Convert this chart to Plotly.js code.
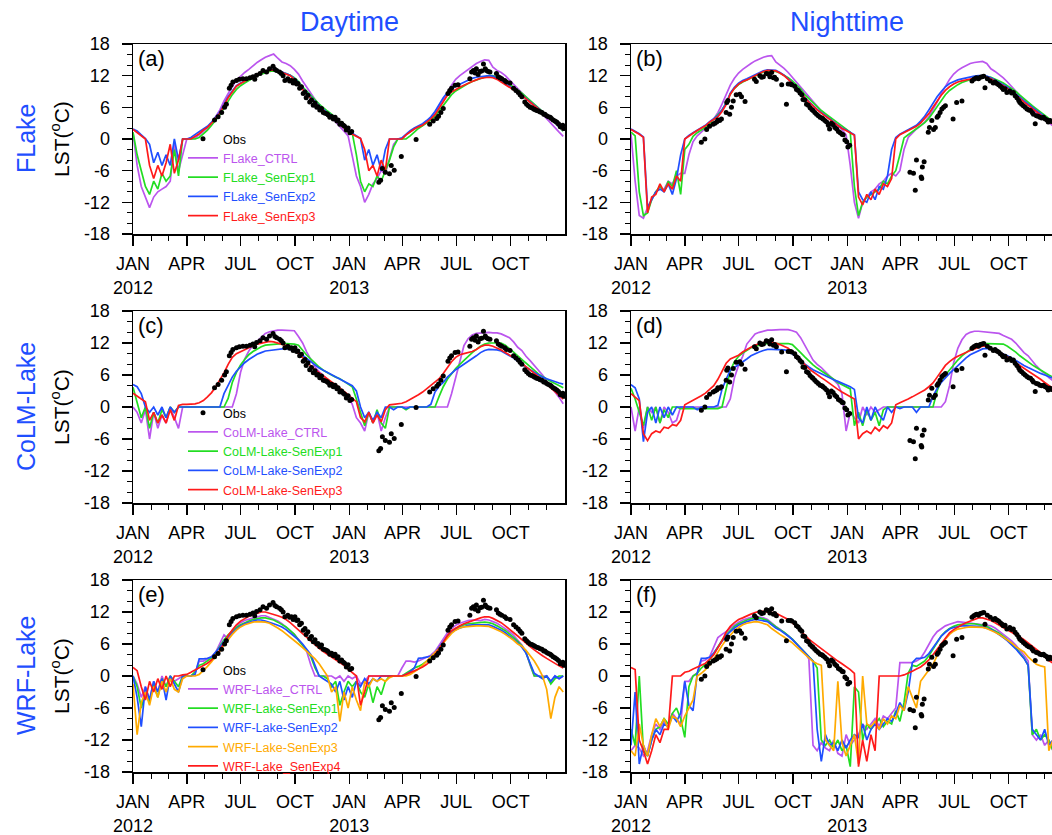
<!DOCTYPE html>
<html><head><meta charset="utf-8">
<script src="https://cdn.plot.ly/plotly-3.0.1.min.js"></script>
<style>html,body{margin:0;padding:0;overflow:hidden;background:#fff}#chart{width:1070px;height:835px}</style>
</head><body><div id="chart"></div>
<script>
// ---- x grid (days since 2012-01-01, weekly samples) ----
const dayGrid = [0,7,14,21,28,35,42,49,56,63,70,77,84,91,98,105,112,119,126,133,140,147,154,161,168,175,182,189,196,203,210,217,224,231,238,245,252,259,266,273,280,287,294,301,308,315,322,329,336,343,350,357,364,371,378,385,392,399,406,413,420,427,434,441,448,455,462,469,476,483,490,497,504,511,518,525,532,539,546,553,560,567,574,581,588,595,602,609,616,623,630,637,644,651,658,665,672,679,686,693,700,707,714,721,728];

const majorTickDays = [0,91,182,274,366,456,547,639];
const majorTickText = ['JAN<br>2012','APR','JUL','OCT','JAN<br>2013','APR','JUL','OCT'];
const minorTickDays = [31,60,121,152,213,244,305,335,397,425,486,517,578,609,670,700];
const yTickVals = [-18,-12,-6,0,6,12,18];
const yTickText = ['-18','-12','-6','0','6','12','18'];

const flakeNames = ['FLake_CTRL','FLake_SenExp1','FLake_SenExp2','FLake_SenExp3'];
const colmNames = ['CoLM-Lake_CTRL','CoLM-Lake-SenExp1','CoLM-Lake-SenExp2','CoLM-Lake-SenExp3'];
const wrfNames = ['WRF-Lake_CTRL','WRF-Lake-SenExp1','WRF-Lake-SenExp2','WRF-Lake-SenExp3','WRF-Lake_SenExp4'];

// ---- observations ----
const obsDayDays = [138,144,150,155,158,163,166,169,175,180,186,192,198,203,206,209,215,220,226,231,237,240,243,248,251,254,257,262,265,268,271,274,277,279,282,285,288,291,293,296,299,302,305,308,311,313,316,319,322,325,328,330,333,336,339,342,345,347,350,353,356,358,361,364,367,370,
416,419,422,427,434,437,442,454,479,
502,508,514,517,521,525,533,536,539,545,550,570,573,576,579,581,584,587,590,593,596,598,601,604,615,618,621,624,629,632,638,644,648,652,655,658,663,666,669,672,675,678,680,683,686,689,692,695,697,700,703,706,708,711,714,717,720,723,725,727,729];
const obsDayVals = [3.6,4.2,5.0,6.0,6.6,9.6,10.2,10.8,11.1,11.3,11.4,11.4,11.6,11.8,11.3,12.1,12.4,13.0,12.7,13.3,13.8,13.2,13.0,12.7,12.4,12.0,11.1,11.4,11.0,11.1,10.6,11.1,10.4,10.5,9.6,9.9,8.6,8.9,7.8,8.3,7.0,7.4,6.4,6.8,6.0,6.1,5.5,5.8,5.0,4.9,4.8,4.6,4.1,4.25,3.8,4.1,3.4,3.6,2.8,3.0,2.6,2.4,1.7,2.1,1.2,1.4,
-8.2,-7.8,-5.6,-6.3,-6.6,-5.0,-5.9,-3.3,-0.1,
2.8,3.4,3.9,4.3,5.0,5.8,8.6,9.2,9.6,10.2,10.3,11.4,12.7,13.0,12.5,13.3,12.2,12.8,12.9,14.2,13.3,13.0,12.8,12.7,12.4,11.8,11.6,11.4,11.1,10.8,10.6,9.6,9.2,8.8,8.4,8.0,7.0,6.6,6.3,6.0,5.9,5.7,5.6,5.4,5.3,5.1,5.0,4.7,4.7,4.4,4.2,4.1,3.9,3.6,3.4,3.2,2.9,2.3,2.3,2.6,2.0];
const obsNightDays = [119,125,128,133,139,142,145,147,150,153,161,162,164,167,170,173,178,184,187,193,209,212,218,221,224,229,232,235,238,241,243,246,255,263,266,270,272,277,280,283,286,289,291,294,297,300,303,306,308,311,314,317,320,323,325,328,331,334,336,339,342,345,348,351,354,357,359,362,365,367,370,
472,478,481,483,491,492,493,496,
503,505,509,512,515,518,520,523,526,529,532,545,551,560,577,580,583,585,588,591,594,597,599,603,608,613,616,619,622,625,628,630,633,636,641,644,647,650,653,656,658,661,664,667,670,673,676,679,681,684,686,689,692,695,698,701,704,706,709,712,718,724,729];
const obsNightVals = [-0.6,0.0,1.8,2.4,2.8,3.0,3.2,3.6,3.5,3.8,5.0,6.9,7.3,4.7,6.0,7.2,8.4,8.5,8.0,7.1,11.3,10.9,12.0,11.7,11.8,12.4,12.3,11.8,12.6,11.6,11.7,11.3,10.3,6.6,10.4,10.4,10.3,10.0,9.4,9.2,8.7,8.4,7.5,7.4,6.6,6.4,5.9,5.6,5.4,5.0,4.7,4.4,4.1,4.0,3.8,3.5,3.2,2.6,1.9,3.0,2.7,2.2,1.9,1.4,1.2,0.9,0.8,-0.2,-0.5,-1.5,-1.2,
-6.3,-6.5,-9.7,-4.0,-7.2,-7.5,-5.3,-4.3,
1.3,2.2,3.5,1.8,2.2,4.1,4.4,5.0,5.7,6.0,6.3,3.8,6.9,7.2,11.0,11.3,11.5,11.6,11.4,11.7,11.8,11.9,9.7,11.4,11.0,10.6,10.8,10.5,10.3,10.0,9.7,9.4,9.5,8.8,9.1,8.7,8.8,8.2,7.8,7.3,6.9,6.6,6.3,6.0,5.7,5.5,5.4,5.0,4.7,2.9,4.4,4.3,4.1,4.0,4.1,3.8,3.6,3.2,3.5,3.3,3.0,2.6,2.3];

// ---- (a) FLake daytime ----
const aCTRL = [1.2,-5,-9,-11,-13,-11,-10,-9.5,-9,-8,-1,-6,-3,
 0,0,0.2,0.8,1.5,2.1,3.0,4.2,5.5,7.2,8.7,10.0,11.1,
 11.9,12.6,13.2,13.9,14.5,15.0,15.5,15.8,16.1,15.3,14.6,14.3,13.9,
 13.2,12.3,11.0,9.8,8.6,7.5,6.5,5.6,4.8,4.1,3.3,2.4,1.5,
 0.6,-3,-7,-9,-12,-10.5,-8.5,-7.5,-6,-6.5,-3.5,-1,0,
 0,0.8,1.4,1.9,2.3,2.7,3.3,4.0,5.0,6.2,7.6,8.8,10.2,
 11.3,12.0,12.6,13.2,13.8,14.3,14.7,15.0,14.9,13.6,13.0,12.6,12.0,
 11.2,10.3,9.6,8.8,8.1,7.2,6.4,5.5,4.7,3.8,3.0,2.2,1.3,0.5];
const aSen1 = [1.3,-3,-6,-9,-10.5,-8,-9.5,-6.5,-8,-7,-2,-7,0,
 0,0,0,0.3,1.0,1.7,2.6,3.6,4.6,5.9,7.2,8.4,9.4,
 10.1,10.6,11.1,11.6,12.0,12.3,12.6,12.8,12.9,12.8,12.6,12.4,12.1,
 11.6,10.9,9.9,9.0,8.2,7.4,6.6,5.9,5.3,4.7,4.0,3.2,2.5,
 1.8,1.1,-3,-8,-10,-8.5,-9,-7,-8,-6,-4,-1.5,0,
 0,0,0.6,1.3,2.0,2.5,3.0,3.6,4.3,5.3,6.4,7.5,8.4,
 9.1,9.6,10.1,10.5,10.9,11.2,11.5,11.8,12.0,12.0,11.7,11.3,10.9,
 10.4,9.9,9.3,8.7,8.0,7.3,6.6,5.9,5.3,4.6,3.8,3.0,2.3,1.5];
const aSen2 = [1.9,1.5,0.8,0.1,-1,-4.5,-2.5,-5,-3,-5,0,-4,0,
 0,0.3,0.9,1.4,1.9,2.4,3.2,4.1,5.1,6.6,8.0,9.1,10.1,
 10.6,11.0,11.4,11.9,12.3,12.6,12.9,13.1,13.2,13.0,12.7,12.4,12.1,
 11.5,10.7,9.6,8.7,7.9,7.1,6.3,5.6,5.0,4.5,3.8,3.0,2.3,
 1.6,1.1,0.6,0.1,-4,-2,-5,-3,-6,-2,0,0,0,
 0.2,1.0,1.6,2.1,2.5,2.9,3.5,4.2,5.2,6.5,7.8,8.8,9.5,
 10.0,10.4,10.8,11.2,11.5,11.7,11.8,12.0,12.0,11.9,11.5,11.0,10.5,
 10.0,9.4,8.9,8.4,7.7,7.0,6.4,5.8,5.2,4.5,3.8,3.0,2.3,1.6];
const aSen3 = [1.8,1.2,0.5,0,-5,-7.5,-5,-7,-4.5,-1,-6.5,-4,0,
 0,0,0.5,1.0,1.7,2.2,3.0,3.9,4.9,6.4,7.8,8.9,10.0,
 10.5,10.9,11.3,11.8,12.3,12.6,12.9,13.0,13.1,12.9,12.6,12.3,12.0,
 11.3,10.5,9.4,8.5,7.7,6.9,6.1,5.4,4.8,4.3,3.6,2.8,2.1,
 1.4,0.9,0.5,0.1,-2,-6,-5,-7,-4,-6,0,0,0,
 0,0.8,1.4,1.9,2.3,2.6,3.2,3.8,4.6,5.8,7.0,8.3,8.9,
 9.4,9.8,10.2,10.6,10.9,11.2,11.5,11.6,11.7,11.6,11.3,10.8,10.3,
 9.8,9.2,8.7,8.3,7.6,6.9,6.3,5.7,5.1,4.5,3.9,3.1,2.4,1.7];

// ---- (b) FLake nighttime ----
const bCTRL = [1.0,-8,-14.5,-15,-13,-11.5,-10,-9.5,-9.5,-8,-8.5,-7,-6.5,
 -6.5,-3,-0.5,0.6,1.3,2.0,2.8,3.8,5.0,6.6,8.4,10.2,11.5,
 12.5,13.2,13.8,14.3,14.8,15.2,15.5,15.7,15.8,14.6,14.0,13.4,12.6,
 11.7,10.8,9.9,8.9,7.9,7.0,6.1,5.3,4.6,3.9,3.2,2.5,1.8,
 0.8,-5,-12,-15,-12,-11,-10,-9.5,-8.5,-8,-7,-6.5,-7,
 -6,-2,0.3,1.2,1.9,2.5,3.2,4.2,5.5,7.0,8.6,10.0,11.3,
 12.3,13.0,13.5,13.9,14.3,14.5,14.6,14.7,14.3,13.3,12.8,12.2,11.6,
 10.8,9.9,9.0,8.1,7.3,6.5,5.7,5.0,4.3,3.7,3.1,2.5,1.9,1.3];
const bSen1 = [1.3,0.6,-10,-14.5,-14,-11.5,-10,-9,-10,-8,-9,-6,-10.5,
 -2,-1,0.5,1.2,1.7,2.2,2.9,3.7,4.5,5.5,6.8,8.5,9.6,
 10.3,10.8,11.2,11.6,12.0,12.4,12.7,12.8,12.8,12.8,12.5,12.1,11.6,
 11.0,10.3,9.5,8.4,7.6,6.8,6.1,5.4,4.8,4.2,3.6,3.0,2.4,
 1.9,1.3,-9,-14.5,-12,-11,-10.5,-10,-9.5,-8,-8.5,-7,-6,
 -3,0.2,0.8,1.4,1.9,2.5,3.1,3.9,5.0,6.2,7.4,8.4,9.2,
 9.8,10.3,10.7,11.0,11.3,11.5,11.6,11.7,11.8,11.7,11.4,11.0,10.6,
 10.1,9.6,9.0,8.3,7.6,6.9,6.3,5.7,5.1,4.5,3.9,3.3,2.7,2.1];
const bSen2 = [1.9,1.5,1.0,0.4,-13,-11.5,-10,-9.5,-10,-8.5,-10.5,-7.5,-3,
 0,0.7,1.2,1.7,2.1,2.6,3.3,3.9,4.4,5.5,6.8,8.7,9.8,
 10.6,11.1,11.4,11.8,12.2,12.6,12.9,13.1,13.1,13.0,12.6,12.1,11.4,
 10.7,9.9,9.1,7.9,7.1,6.3,5.6,5.0,4.4,3.8,3.2,2.6,2.1,
 1.7,1.3,0.8,-10,-11.5,-12,-10,-11.5,-9,-9.5,-7,-2,0.3,
 0.9,1.3,1.7,2.1,2.6,3.4,4.3,5.5,6.8,8.0,9.0,9.9,10.5,
 10.9,11.2,11.4,11.6,11.8,11.9,12.0,12.0,11.9,11.6,11.2,10.8,10.3,
 9.8,9.2,8.6,7.9,7.2,6.6,6.0,5.4,4.8,4.2,3.6,3.0,2.4,1.8];
const bSen3 = [1.8,1.4,0.9,0.3,-14,-11,-10.5,-8.5,-10,-8.5,-9.5,-7,-8,
 0,0.6,1.1,1.6,2.0,2.5,3.2,3.7,4.2,5.2,6.5,8.5,9.6,
 10.4,10.9,11.2,11.6,12.0,12.4,12.8,13.0,13.0,12.9,12.5,12.0,11.3,
 10.6,9.8,9.0,7.8,7.0,6.2,5.5,4.9,4.3,3.7,3.1,2.5,2.0,
 1.6,1.2,0.7,-11,-12.5,-10.5,-11.5,-9.5,-10.5,-8.5,-9,-7.5,0,
 0.8,1.2,1.6,2.0,2.4,3.0,3.8,4.8,6.0,7.2,8.3,9.2,9.9,
 10.4,10.8,11.0,11.2,11.4,11.5,11.7,11.8,11.7,11.4,11.0,10.6,10.1,
 9.6,9.0,8.4,7.7,7.0,6.4,5.8,5.2,4.6,4.0,3.4,2.8,2.2,1.6];

// ---- (c) CoLM-Lake daytime ----
const cCTRL = [0,-1,-3,-0.5,-6,-1,-4,-1.5,-3,0,-2,-4,0,
 0,0,0,0,0,0,0,0,0,0,0,0,2.5,
 6.5,9.0,10.5,11.6,12.4,13.2,13.8,14.1,14.3,14.4,14.4,14.4,14.4,
 14.3,13.2,12.0,10.3,8.8,7.5,6.6,5.9,5.1,4.5,3.9,3.3,2.6,
 2.0,0.5,-2,-3,-4.5,-1,-3,-1,-4.5,-2,0,0,0,
 0,0,0,0,0,0,0,0,0,0,0,0,2.5,
 5.5,9.0,11.5,12.8,13.5,13.8,13.9,14.0,14.0,13.9,13.9,13.7,13.4,
 13.0,12.2,11.2,10.6,9.5,8.7,7.7,6.9,6.0,5.0,4.0,3.0,1.8,0.6];
const cSen1 = [3.7,1.0,-2,0,-4,-1,-3,-0.5,-2,0,-1,0,0,
 0,0,0,0,0,0,0,0,0,0,1.6,4.6,6.5,
 7.9,8.9,9.8,10.4,10.9,11.3,11.6,11.7,11.8,11.9,11.9,11.9,11.9,
 11.8,11.6,10.6,9.7,9.0,8.2,7.5,6.9,6.4,6.0,5.6,5.3,4.8,
 4.3,3.8,1.5,-1,-3.5,-1,-3,-0.5,-3,-4,0,0,0,
 0,-0.5,0,0,0,0,0,0,0,2.0,3.8,5.2,6.3,
 7.2,8.0,8.8,9.5,10.2,10.8,11.4,11.8,12.0,12.0,12.0,12.0,11.6,
 11.0,10.3,9.6,8.9,8.2,7.5,6.8,6.2,5.7,5.2,4.8,4.4,4.0,3.6];
const cSen2 = [4.2,3.8,2.5,0,-1,0,-1.5,0,-2,0,-1,0,0,
 0,0,0,0,0,0,0,0,0,2.5,4.0,5.6,6.7,
 7.6,8.3,8.9,9.4,9.9,10.2,10.5,10.6,10.7,10.8,10.9,11.0,10.8,
 10.6,10.3,9.7,9.1,8.5,7.8,7.3,6.9,6.5,6.1,5.7,5.2,4.8,
 4.4,4.0,3.0,0,-2,-1,-2.5,-1,-2,0,0,-0.5,0,
 0,-0.3,0,0,0,0,0,0.5,2.8,3.9,4.6,5.6,6.4,
 7.0,7.5,8.0,8.5,9.1,9.6,10.2,10.6,10.8,10.8,10.7,10.5,10.1,
 9.7,9.2,8.6,8.0,7.5,7.0,6.5,6.0,5.6,5.3,5.0,4.8,4.5,4.3];
const cSen3 = [2.6,2.0,1.5,1.0,-2.5,-1,-3,-1.5,-3,-0.5,-2.5,0.3,0.5,
 0.5,0.5,0.6,0.8,1.2,1.9,2.7,3.8,5.0,6.4,8.0,9.3,10.0,
 10.4,10.7,11.1,11.5,11.8,12.0,12.2,12.3,12.2,12.0,11.8,11.5,11.3,
 10.8,10.0,9.2,8.4,7.7,7.0,6.4,5.8,5.2,4.7,4.2,3.6,3.0,
 2.3,1.6,1.0,-2,-2.8,-1,-3,-1.5,-2.8,-0.5,0.4,0.5,0.6,
 0.7,1.0,1.4,1.8,2.3,2.8,3.4,4.0,4.7,5.3,6.3,7.4,8.5,
 9.3,9.8,10.0,10.2,10.4,10.8,11.3,11.6,11.6,11.4,11.1,10.7,10.2,
 9.8,9.3,8.8,8.2,7.6,6.9,6.3,5.7,5.0,4.3,3.6,2.9,2.2,1.5];

// ---- (d) CoLM-Lake nighttime ----
const dCTRL = [0,-4.5,0,-4,0,-1,0,-3,0,-1,-3,-2.5,0,
 0,0,0,0,0,0,0,0,0,0,0,1.5,5.5,
 7.8,9.5,11.8,12.8,13.7,14.0,14.2,14.4,14.4,14.5,14.5,14.5,14.5,
 14.3,14.0,13.0,11.5,10.0,8.8,8.0,7.4,6.6,5.8,5.0,4.3,2.5,
 -4.5,-1,-2,-3,0,-1.5,0,-1,-0.5,0,0,0,0,
 0,0,0,0,0,0,0,0,0,0,0,1.0,4.0,
 8.3,11.0,12.6,13.6,14.0,14.2,14.2,14.1,14.0,13.9,13.9,13.8,13.4,
 13.0,12.7,12.0,11.0,10.2,9.6,8.6,7.7,6.9,6.3,5.5,5.0,4.4,3.8];
const dSen1 = [3.5,1.5,-1,-3.5,0,-2.5,0,-3,-0.5,-2,0,0,-0.3,
 -0.3,-0.3,-0.3,-0.3,-0.3,-0.3,-0.3,-0.3,-0.3,0,3.5,6.8,8.5,
 9.5,10.1,10.6,11.1,11.4,11.6,11.8,11.9,11.9,11.9,11.9,11.9,11.9,
 11.7,11.0,10.2,9.4,8.6,7.9,7.3,6.8,6.2,5.7,5.2,4.6,4.2,
 3.8,3.4,-3.5,-1,-3.5,-0.5,-2.5,-1,-3.5,-0.5,0,0,0,
 0,0,0,0,0,0,0,0,0,3.0,5.0,6.0,7.0,
 8.0,8.8,9.6,10.2,10.8,11.2,11.5,11.8,11.9,11.9,11.9,11.9,11.8,
 11.4,10.9,10.3,9.6,9.0,8.4,7.9,7.4,6.9,6.5,6.0,5.6,5.2,4.8];
const dSen2 = [4.2,3.6,1.5,-6.5,-1,0,-3,0,-2,0,-1.5,0,0,
 0,0,0,-0.5,0,0,0,0,0.3,3.3,5.2,6.9,7.4,
 7.9,8.4,9.0,9.6,10.0,10.3,10.6,10.8,10.8,10.8,10.7,10.7,10.6,
 10.0,9.3,8.6,8.0,7.5,7.0,6.6,6.2,5.8,5.4,5.1,4.8,4.5,
 4.2,3.8,3.3,-2,-3,0,-2.5,0,-1.5,-2.5,0,-1,0,
 -0.3,0,0,0,-1,0,0,0,2.0,3.5,4.6,5.5,6.3,
 7.0,7.8,8.5,9.2,9.8,10.2,10.6,10.9,11.0,10.9,10.6,10.3,10.0,
 9.6,9.2,8.7,8.2,7.8,7.4,7.0,6.6,6.3,6.0,5.7,5.4,5.1,4.8];
const dSen3 = [2.5,1.8,1.2,-5,-6.3,-5,-4.5,-4.8,-3.8,-4,-3.3,-3.5,-2.5,
 0.4,0.8,1.3,1.7,2.1,2.6,3.3,4.0,5.2,6.7,8.2,9.0,9.4,
 9.7,10.3,10.8,11.2,11.6,11.9,12.1,12.3,12.2,12.0,11.7,11.4,11.0,
 10.3,9.5,8.7,7.9,7.2,6.6,6.0,5.5,5.0,4.4,3.9,3.3,2.8,
 2.4,2.0,1.5,-6,-5,-4.5,-5,-3.8,-4.5,-3.5,-4,-3,0.4,
 0.8,1.1,1.5,1.9,2.3,2.7,3.2,3.8,4.5,5.6,6.8,7.8,8.5,
 9.1,9.5,9.9,10.2,10.6,10.9,11.2,11.4,11.4,11.1,10.7,10.3,9.9,
 9.4,8.8,8.3,7.8,7.3,6.8,6.3,5.8,5.2,4.6,4.0,3.4,2.9,2.4];

// ---- (e) WRF-Lake daytime ----
const eCTRL = [0,-1.5,-4,-2,-4.5,-1,-3,0,-2,0,-1,-0.5,0,
 0,0,0.5,2.8,2.8,3.2,3.6,4.5,6.0,7.7,7.0,8.6,9.4,
 10.0,10.4,10.6,10.8,11.1,11.3,11.3,11.0,10.7,10.3,9.8,9.2,8.5,
 7.8,6.9,5.9,4.6,2.0,0,0,0,0,0,-0.5,0,-1,
 0,-0.5,0,-1.5,-1,0,0,0,0,0,0,0,0,
 1.5,2.8,2.8,2.6,2.8,3.2,3.5,3.9,4.6,5.8,7.0,8.1,8.9,
 9.5,9.9,10.2,10.4,10.5,10.5,10.4,10.6,10.5,10.2,9.9,9.4,8.9,
 8.3,7.6,6.8,5.8,4.5,2.0,0,0,0,0,-1,0,-0.5,0];
const eSen1 = [0,-2,-6,-3,-5,-1.5,-4,-0.5,-2,0,-1,-2,0,
 0,0,0.8,2.0,2.3,2.8,3.4,4.3,5.6,6.8,7.7,8.5,9.1,
 9.6,10.0,10.3,10.6,10.8,10.9,10.9,10.7,10.5,10.1,9.7,9.2,8.5,
 7.8,6.7,5.8,4.8,3.6,1.5,0,0,-0.5,-2,-1,-5.5,-3,
 -1,-2,-1,-3,-4,-1.5,-5,-2,-3.5,-1,0,0,0,
 0,0.5,1.0,1.5,1.8,2.2,2.8,3.3,4.0,5.0,6.2,7.4,8.3,
 8.9,9.3,9.6,9.8,9.9,10.0,10.0,10.1,10.0,9.8,9.4,9.0,8.5,
 7.9,7.2,6.5,5.6,4.4,2.2,0,0,-0.3,0,-1.5,-0.5,0,0];
const eSen2 = [0,-4,-9.5,-2,-4.5,-1,-3,-0.5,-4.5,0,-1.5,-3,0,
 0,0,0.3,3.2,3.2,3.3,3.6,4.4,5.4,6.5,7.4,8.1,8.8,
 9.4,9.8,10.1,10.3,10.5,10.5,10.3,10.1,9.8,9.5,9.2,8.7,8.1,
 7.5,6.8,6.0,5.1,4.0,2.0,0,-0.5,-1,-1.5,-3,-1,-4.5,
 -2,-4,-1,-2,-0.5,-1.5,-0.5,-1,0,0,0,0,0,
 0,0.3,0.8,1.5,3.3,3.4,3.5,3.7,4.3,5.3,6.5,7.5,8.2,
 8.7,9.0,9.3,9.5,9.6,9.6,9.6,9.7,9.6,9.3,9.0,8.6,8.1,
 7.5,6.9,6.2,5.4,4.3,2.4,0.5,0,-0.5,0,-1,0,-0.5,0];
const eSen3 = [-1.5,-11,-5,-3,-5.5,-2,-4,-1,-3,-0.5,-2.5,-3,-0.5,
 0,0,0,0.3,1.0,1.8,2.7,3.6,4.7,5.8,6.9,7.8,8.6,
 9.2,9.6,9.9,10.1,10.2,10.2,10.1,9.9,9.5,9.0,8.5,7.9,7.3,
 6.7,6.0,5.3,4.6,3.9,3.2,2.3,1.2,0,-3,-2,-8.5,-3,
 -6,-2,-4.5,-6.5,-1,-2,-0.5,-1,-0.5,-1,-0.3,0,0,
 0,0,0.3,0.8,1.3,2.0,2.8,3.5,4.3,5.2,6.2,7.2,8.0,
 8.6,9.0,9.2,9.3,9.4,9.4,9.4,9.4,9.3,9.0,8.7,8.3,7.8,
 7.3,6.7,6.0,5.6,4.8,3.9,2.8,1.5,0,-2.5,-8,-4,-2,-3];
const eSen4 = [1.6,1.0,-2,-4.5,-1,-3,-0.5,-2.5,0,-2,0,0,0.2,
 0.3,0.7,1.1,1.5,2.0,2.4,3.0,3.8,4.8,6.2,7.6,8.6,9.6,
 10.3,10.8,11.2,11.5,11.8,12.0,12.0,11.8,11.6,11.3,11.0,10.6,10.0,
 9.3,8.7,8.0,7.3,6.6,5.9,5.2,4.6,4.1,3.6,3.1,2.6,2.0,
 1.3,0.6,0,-5.5,-3,0,0,0,0,0,0,0,0,
 0,0.3,0.6,0.9,1.3,1.7,2.2,2.9,3.9,5.1,6.3,7.6,8.5,
 9.0,9.4,9.8,10.1,10.4,10.6,10.9,11.1,11.1,10.8,10.4,10.0,9.4,
 8.8,8.2,7.5,6.8,6.1,5.5,4.9,4.3,3.8,3.3,2.8,2.3,1.9,1.5];

// ---- (f) WRF-Lake nighttime ----
const fCTRL = [-14,-13,-13.5,-15,-14,-11,-9,-10,-8.5,-9.5,-7,-8,-9,
 -1,-1,0,0.5,2.8,3.0,3.6,5.5,7.2,7.8,8.3,9.0,9.6,
 10.1,10.5,10.8,11.0,11.2,11.1,10.9,10.6,9.9,9.3,8.8,8.2,7.6,
 6.9,6.1,5.3,4.4,3.2,-13,-14,-12.5,-13.5,-14,-12,-14.5,-15,
 -11,-13,-12,-11,-9,-10,-9,-8,-9.5,-7.5,-8,-7,-6,
 2.5,2.5,2.5,2.5,2.8,3.3,4.5,6.0,7.3,8.3,8.9,9.4,9.7,
 10.0,10.2,10.1,10.0,9.9,9.9,9.8,9.7,9.6,9.4,9.0,8.4,7.8,
 7.2,6.6,5.8,4.9,3.9,2.8,-11,-12,-11,-13,-12,-14,-15,-16];
const fSen1 = [-10,-13,0,-14,-15,-12,-10,-9.5,-8,-9,-7,-6,-8,
 -11.5,-2,0,0.5,1.5,2.2,3.0,4.2,5.5,6.7,7.7,8.6,9.3,
 9.8,10.2,10.5,10.7,10.9,10.9,10.7,10.4,9.8,9.2,8.7,8.2,7.6,
 6.9,6.1,5.3,4.4,3.6,2.8,1.5,-12,-13,-12,-13.5,-12,-14,
 -13,-17,-2,-3,-12,-9,-10,-9,-8,-9.5,-8.5,-9,-6.5,
 -8.5,-5,0.5,2.0,1.8,2.3,2.8,3.8,5.0,6.4,7.5,8.3,8.9,
 9.3,9.6,9.7,9.8,9.8,9.8,9.7,9.5,9.3,8.9,8.5,8.0,7.4,
 6.8,6.1,5.3,4.4,3.4,2.0,-11,-10,-12,-11,-12,-14,-14,-15];
const fSen2 = [-13,-3,-16.5,-13,-15,-12,-10,-11,-9,-9.5,-7.5,-8.5,-7,
 -1,-5.5,-6.5,0.5,3.3,3.3,3.5,4.3,5.4,6.6,7.6,8.3,9.0,
 9.5,9.9,10.2,10.4,10.6,10.5,10.4,10.2,9.6,9.0,8.6,8.1,7.5,
 6.8,6.0,5.2,4.3,3.5,2.8,-10,-16,-11,-13,-12.5,-14,-12,
 -13.5,-12,-11,-11.5,-9,-12,-10,-9,-10,-9,-8,-8.5,-7,
 -5,-6.5,-3,2.5,3.3,3.3,3.5,4.2,5.3,6.5,7.5,8.2,8.8,
 9.1,9.3,9.4,9.4,9.4,9.4,9.3,9.2,9.0,8.7,8.3,7.8,7.2,
 6.6,5.9,5.1,4.2,3.3,2.0,-10,-11,-12,-10,-13,-12,-14,-15];
const fSen3 = [-14,-15,-9,-13,-15,-11,-8,-9.5,-8,-10,-7.5,-8,-9.5,
 -7.5,-6,-4.5,0,0.5,1.2,2.0,3.2,4.5,5.7,6.8,7.7,8.5,
 9.1,9.6,9.9,10.1,10.2,10.1,9.9,9.6,8.9,8.3,7.8,7.3,6.8,
 6.2,5.5,4.8,4.1,3.4,2.7,2.3,2.0,-12,-13,-14,-1,-12.5,
 -15,-13,-11,-16.5,0,-9,-9.5,-8.5,-10,-8,-9,-7.5,-8,
 -5.5,-6.5,-2,-4,-6,-1,0,1.0,2.2,3.8,5.5,6.9,7.8,
 8.4,8.8,9.0,9.1,9.2,9.2,9.2,9.1,8.9,8.6,8.2,7.8,7.3,
 6.8,6.2,5.5,5.0,4.5,3.6,2.8,2.2,1.9,1.7,-14,-12,-13,-12];
const fSen4 = [1.6,1.2,-12,-14,-16.5,-14,-11,-12.5,-10,-10,0,0,0,
 0.7,0.9,1.3,1.6,2.0,2.4,3.1,4.0,5.2,6.6,8.2,9.3,10.0,
 10.6,10.9,11.3,11.6,11.9,12.1,12.1,12.0,11.9,11.8,11.4,11.0,10.6,
 10.0,9.2,8.5,7.7,6.9,6.3,5.7,5.1,4.6,4.0,3.4,2.8,2.3,
 1.8,1.2,0.5,-17,-12,-16,-11,-14,0,0,0,0,0,
 0,0.2,0.5,0.9,1.3,1.7,2.3,3.0,4.0,5.0,6.2,7.2,8.1,
 8.7,9.2,9.6,10.0,10.3,10.6,10.9,10.9,10.7,10.4,10.0,9.5,9.0,
 8.6,8.2,7.8,7.3,6.8,6.2,5.6,5.0,4.4,3.6,2.9,2.4,2.0,1.6];

// ---- styling ----
const W = 1070, H = 835;
const FONT = 'Liberation Sans, Arial, Helvetica, sans-serif';
const PURPLE = '#bb55ee', GREEN = '#22dd22', BLUE = '#1f4fff', RED = '#ff1a1a', ORANGE = '#ffaa00';
const TITLEBLUE = '#1f4fff';
const fourColors = [PURPLE, GREEN, BLUE, RED];
const fiveColors = [PURPLE, GREEN, BLUE, ORANGE, RED];

const colDom = [[133/W, 565/W], [631/W, 1063/W]];
const rowDom = [[1-234/H, 1-44/H], [1-503/H, 1-311/H], [1-772/H, 1-580/H]];

const panels = [
  {lab:'(a)', n:1, col:0, row:0, series:[aCTRL,aSen1,aSen2,aSen3], names:flakeNames, colors:fourColors, ox:obsDayDays, oy:obsDayVals, legend:'legend'},
  {lab:'(b)', n:2, col:1, row:0, series:[bCTRL,bSen1,bSen2,bSen3], names:flakeNames, colors:fourColors, ox:obsNightDays, oy:obsNightVals, legend:null},
  {lab:'(c)', n:3, col:0, row:1, series:[cCTRL,cSen1,cSen2,cSen3], names:colmNames, colors:fourColors, ox:obsDayDays, oy:obsDayVals, legend:'legend2'},
  {lab:'(d)', n:4, col:1, row:1, series:[dCTRL,dSen1,dSen2,dSen3], names:colmNames, colors:fourColors, ox:obsNightDays, oy:obsNightVals, legend:null},
  {lab:'(e)', n:5, col:0, row:2, series:[eCTRL,eSen1,eSen2,eSen3,eSen4], names:wrfNames, colors:fiveColors, ox:obsDayDays, oy:obsDayVals, legend:'legend3'},
  {lab:'(f)', n:6, col:1, row:2, series:[fCTRL,fSen1,fSen2,fSen3,fSen4], names:wrfNames, colors:fiveColors, ox:obsNightDays, oy:obsNightVals, legend:null}
];

const traces = [];
const layout = {
  width: W, height: H, margin:{l:0,r:0,t:0,b:0},
  paper_bgcolor:'#fff', plot_bgcolor:'#fff',
  font:{family:FONT, color:'#000'},
  showlegend:true, annotations:[]
};

panels.forEach(p => {
  const xa = p.n === 1 ? 'x' : 'x' + p.n;
  const ya = p.n === 1 ? 'y' : 'y' + p.n;
  p.series.forEach((vals, i) => {
    traces.push({
      type:'scatter', mode:'lines', x:dayGrid, y:vals, xaxis:xa, yaxis:ya,
      line:{color:p.colors[i], width:1.7},
      name:'<span style="color:' + p.colors[i] + '">' + p.names[i] + '</span>',
      legend: p.legend || 'legend', showlegend: !!p.legend, legendrank: 10 + i,
      hoverinfo:'skip'
    });
  });
  traces.push({
    type:'scatter', mode:'markers', x:p.ox, y:p.oy, xaxis:xa, yaxis:ya,
    marker:{color:'#000', size:5},
    name:'Obs', legend: p.legend || 'legend', showlegend: !!p.legend, legendrank: 1,
    hoverinfo:'skip'
  });
  const xk = p.n === 1 ? 'xaxis' : 'xaxis' + p.n;
  const yk = p.n === 1 ? 'yaxis' : 'yaxis' + p.n;
  layout[xk] = {
    domain: colDom[p.col], anchor: ya, range:[0,731],
    tickmode:'array', tickvals:majorTickDays, ticktext:majorTickText,
    ticks:'outside', ticklen:10, tickwidth:1.5, tickcolor:'#000',
    ticklabelstandoff: 3,
    tickfont:{family:FONT, size:18, color:'#000'},
    showline:true, linecolor:'#000', linewidth:1.5, mirror:true,
    showgrid:false, zeroline:false, fixedrange:true,
    minor:{tickmode:'array', tickvals:minorTickDays, ticks:'outside', ticklen:5, tickwidth:1, tickcolor:'#000', showgrid:false}
  };
  layout[yk] = {
    domain: rowDom[p.row], anchor: xa, range:[-18,18],
    tickmode:'array', tickvals:yTickVals, ticktext:yTickText,
    ticks:'outside', ticklen:10, tickwidth:1.5, tickcolor:'#000',
    ticklabelstandoff: 8,
    tickfont:{family:FONT, size:18, color:'#000'},
    showline:true, linecolor:'#000', linewidth:1.5, mirror:true,
    showgrid:false, zeroline:false, fixedrange:true,
    minor:{tick0:0, dtick:2, ticks:'outside', ticklen:5, tickwidth:1, tickcolor:'#000', showgrid:false}
  };
  layout.annotations.push({
    text:p.lab, xref:xa + ' domain', yref:ya + ' domain', x:0.006, y:1.0,
    xanchor:'left', yanchor:'top', showarrow:false,
    font:{family:FONT, size:22, color:'#000'}
  });
});

const legendBase = {
  xref:'paper', yref:'paper', xanchor:'left', yanchor:'top',
  bgcolor:'rgba(0,0,0,0)', borderwidth:0,
  font:{family:FONT, size:12.5, color:'#000'}, tracegroupgap:0
};
layout.legend  = Object.assign({}, legendBase, {x:183/W, y:1-124/H});
layout.legend2 = Object.assign({}, legendBase, {x:183/W, y:1-398/H});
layout.legend3 = Object.assign({}, legendBase, {x:183/W, y:1-655/H});

// column titles, row labels, y titles
[['Daytime', 349], ['Nighttime', 847]].forEach(t => {
  layout.annotations.push({text:t[0], xref:'paper', yref:'paper', x:t[1]/W, y:1-22/H,
    xanchor:'center', yanchor:'middle', showarrow:false, font:{family:FONT, size:27, color:TITLEBLUE}});
});
[['FLake', 139], ['CoLM-Lake', 407], ['WRF-Lake', 676]].forEach(t => {
  layout.annotations.push({text:t[0], xref:'paper', yref:'paper', x:26/W, y:1-t[1]/H,
    xanchor:'center', yanchor:'middle', textangle:-90, showarrow:false, font:{family:FONT, size:25, color:TITLEBLUE}});
  layout.annotations.push({text:'LST(<sup>o</sup>C)', xref:'paper', yref:'paper', x:60/W, y:1-t[1]/H,
    xanchor:'center', yanchor:'middle', textangle:-90, showarrow:false, font:{family:FONT, size:21, color:'#000'}});
});

Plotly.newPlot('chart', traces, layout, {displayModeBar:false, staticPlot:true});
</script>
</body></html>
